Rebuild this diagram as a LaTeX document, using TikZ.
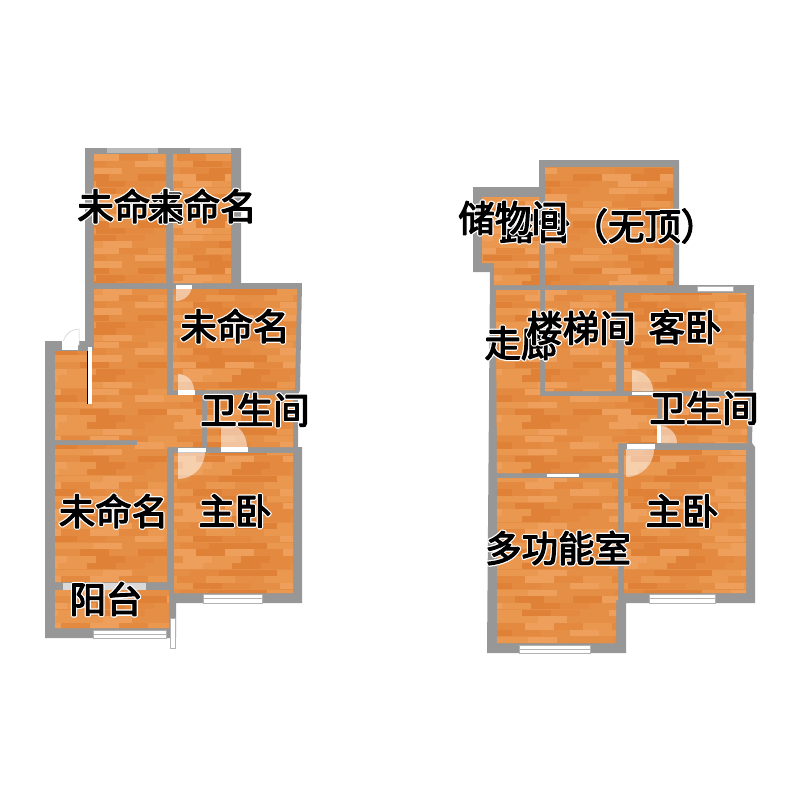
\documentclass[tikz,border=0pt]{standalone}
\usepackage{fontspec}
\newfontfamily\cjk{Noto Sans CJK SC}
\definecolor{wallgray}{HTML}{979797}
\definecolor{wood0}{HTML}{E58E45}
\definecolor{wood1}{HTML}{DF8238}
\definecolor{wood2}{HTML}{EE9F5C}
\definecolor{wood3}{HTML}{E38A40}
\definecolor{wood4}{HTML}{EA9750}
\tikzset{
	wall/.style={fill=wallgray},
	glazed/.style={fill=white, draw=gray!60, line width=0.6pt},
	pane/.style={fill=gray!55},
	palepane/.style={fill=gray!30},
	doorway/.style={fill=white},
	doorleaf/.style={fill=white, fill opacity=0.5},
	roomlabel/.style={inner sep=0pt, font=\cjk\fontsize{36.4}{36.4}\selectfont}
}
\newcommand{\roomtext}[1]{\leavevmode\rlap{\special{pdf:code q 1 1 1 RG 2 Tr 3.8 w 1 j}#1\special{pdf:code Q}}\special{pdf:code q 0 0 0 RG 2 Tr 1.3 w 1 j}#1\special{pdf:code Q}}

\begin{document}
\begin{tikzpicture}[x=1pt, y=-1pt]
	\useasboundingbox (0,0) rectangle (800,800);

	% walls
	\fill[wall] (85,148) -- (241,148) -- (241,283) -- (302,283) -- (300,390) -- (298,395) -- (298,447) -- (302,447) -- (302,603) -- (176,603) -- (176,638) -- (45,638) -- (45,341) -- (85,341) -- cycle;
	\fill[wall] (539,160) -- (679,160) -- (679,285) -- (754,285) -- (753,396) -- (752,443) -- (755,447) -- (755,603) -- (626,603) -- (626,653) -- (487,653) -- (490,272) -- (473,272) -- (473,187) -- (539,187) -- cycle;

	% floors, one plank pattern through all rooms
	\begin{scope}
		\clip (94,154) rectangle (166,283)
			(173,154) rectangle (231,283)
			(173,289) -- (297,289) -- (295,390) -- (173,390) -- cycle
			(94,289) -- (167,289) -- (167,395) -- (202,395) -- (202,447) -- (167,447) -- (167,582) -- (55,582) -- (55,445) -- (137,445) -- (137,440) -- (55,440) -- (55,351) -- (94,351) -- cycle
			(207,395) rectangle (293,447)
			(174,453) rectangle (293,593)
			(55,590) rectangle (169,628)
			(545,167) rectangle (673,285)
			(482,197) -- (539,197) -- (539,285) -- (494,285) -- (494,263) -- (482,263) -- cycle
			(496,290) -- (540,290) -- (540,396) -- (657,396) -- (657,443) -- (618,443) -- (618,473) -- (497,473) -- cycle
			(545,290) rectangle (616,391)
			(624,293) rectangle (746,391)
			(662,396) rectangle (747,443)
			(624,450) rectangle (746,593)
			(497,478) -- (618,478) -- (618,600) -- (616,600) -- (616,643) -- (497,643) -- cycle;
		\fill[wood0] (40,150) rectangle (760,660);
		\foreach \row in {22,...,98}{
			\foreach \col in {1,...,27}{
				\pgfmathtruncatemacro{\band}{mod(\row,7)}
				\pgfmathtruncatemacro{\shade}{mod(\col*2+\band*\band*3+mod(\col*\band,3),5)}
				\pgfmathsetmacro{\leftx}{\col*29-mod(\band*13,29)}
				\pgfmathsetmacro{\topy}{\row*6.7}
				\fill[wood\shade] (\leftx,\topy) rectangle ++(28.6,6.4);
			}
		}
	\end{scope}

	% windows
	\fill[pane] (107,148) rectangle (158,153);
	\fill[pane] (190,148) rectangle (231,153);
	\fill[palepane] (63,583) rectangle (146,590);
	\draw[glazed] (203,594.5) rectangle (262,603);
	\draw[glazed] (203,598.7) -- (262,598.7);
	\draw[glazed] (93,630) rectangle (166,638);
	\draw[glazed] (93,634) -- (166,634);
	\draw[glazed] (170,618) rectangle (175,648);
	\draw[glazed] (697,286) rectangle (733,291);
	\draw[glazed] (649,594.5) rectangle (715,603);
	\draw[glazed] (649,598.7) -- (715,598.7);
	\draw[glazed] (519,645) rectangle (590,653);
	\draw[glazed] (519,649) -- (590,649);
	\fill[doorway] (547,473.5) rectangle (579,477);

	% partition bar
	\fill[doorway] (88,347) rectangle (92,404);
	\draw[line width=0.6pt] (87.7,351) -- (87.7,404);

	% doors
	\fill[doorway] (176,285) rectangle (192,289);
	\fill[doorleaf] (176,285) -- (192,285) arc[start angle=0, end angle=90, radius=16] -- cycle;
	\fill[doorway] (178,390) rectangle (195,395);
	\fill[doorleaf] (178,390) -- (194,390) arc[start angle=0, end angle=-90, radius=16] -- cycle;
	\fill[doorway] (221,447) rectangle (248,452);
	\fill[doorleaf] (221,447) -- (247,447) arc[start angle=0, end angle=-90, radius=26] -- cycle;
	\fill[doorway] (178,448) rectangle (206,452);
	\fill[doorleaf] (178,452) -- (205,452) arc[start angle=0, end angle=90, radius=27] -- cycle;
	\draw[gray!40, line width=0.5pt, fill=white] (79,345) -- (79,329) arc[start angle=-90, end angle=-180, radius=16] -- cycle;
	\fill[doorway] (62,341) rectangle (78,350);
	\fill[doorway] (632,391.5) rectangle (653,395);
	\fill[doorleaf] (632,391) -- (653,391) arc[start angle=0, end angle=-90, radius=21] -- cycle;
	\fill[doorway] (657,425) rectangle (661,443);
	\fill[doorleaf] (661,443) -- (677,443) arc[start angle=0, end angle=-90, radius=17] -- cycle;
	\fill[doorway] (627,444) rectangle (655,449);
	\fill[doorleaf] (626,449) -- (654,449) arc[start angle=0, end angle=90, radius=28] -- cycle;

	% labels
	\node[roomlabel] (backleft) at (132,206) {\roomtext{未命名}};
	\node[roomlabel] (backright) at (202,206) {\roomtext{未命名}};
	\node[roomlabel] (sideroom) at (235,326) {\roomtext{未命名}};
	\node[roomlabel] (bathleft) at (255,410) {\roomtext{卫生间}};
	\node[roomlabel] (frontroom) at (113.5,511) {\roomtext{未命名}};
	\node[roomlabel] (masterleft) at (235,511) {\roomtext{主卧}};
	\node[roomlabel] (balcony) at (106,599) {\roomtext{阳台}};
	\node[roomlabel] (terrace) at (608,226) {\roomtext{露台（无顶）}};
	\node[roomlabel] (storage) at (513,218) {\roomtext{储物间}};
	\node[roomlabel] (hall) at (521,343) {\roomtext{走廊}};
	\node[roomlabel] (stairs) at (581,328) {\roomtext{楼梯间}};
	\node[roomlabel] (guest) at (685,327) {\roomtext{客卧}};
	\node[roomlabel] (bathright) at (704,408) {\roomtext{卫生间}};
	\node[roomlabel] (masterright) at (682,511) {\roomtext{主卧}};
	\node[roomlabel] (multiroom) at (558,548) {\roomtext{多功能室}};
\end{tikzpicture}
\end{document}
